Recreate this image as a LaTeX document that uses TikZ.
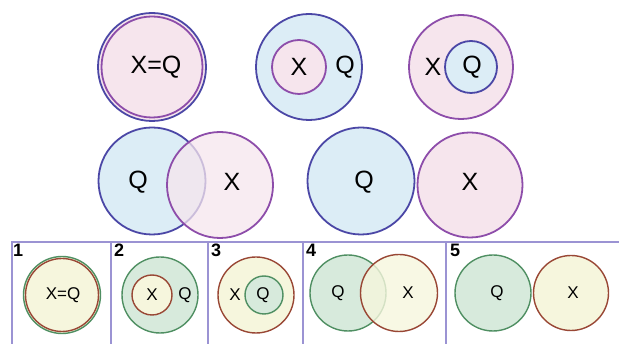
\documentclass[tikz,border=0pt]{standalone}
\usepackage{fontspec}
\setmainfont{Liberation Sans}
\usetikzlibrary{positioning}

\definecolor{pinkfill}{HTML}{F6E5ED}
\definecolor{bluefill}{HTML}{DCEDF6}
\definecolor{blueline}{HTML}{4B47A6}
\definecolor{purpleline}{HTML}{8D4DAA}
\definecolor{yellowfill}{HTML}{F6F6DD}
\definecolor{greenfill}{HTML}{D7EADC}
\definecolor{greenline}{HTML}{4F8F62}
\definecolor{brownline}{HTML}{994735}
\definecolor{frameline}{HTML}{9B93D3}

\begin{document}
\begin{tikzpicture}[x=1pt, y=-1pt,
    qset/.style={circle, draw=blueline, fill=bluefill, line width=1.8pt, inner sep=0pt},
    xset/.style={circle, draw=purpleline, fill=pinkfill, line width=1.8pt, inner sep=0pt},
    qsmall/.style={circle, draw=greenline, fill=greenfill, line width=1.4pt, inner sep=0pt},
    xsmall/.style={circle, draw=brownline, fill=yellowfill, line width=1.4pt, inner sep=0pt},
    lab/.style={font=\fontsize{25}{25}\selectfont, inner sep=0pt},
    slab/.style={font=\fontsize{17}{17}\selectfont, inner sep=0pt},
    num/.style={font=\fontsize{18}{18}\selectfont\bfseries, inner sep=0pt, anchor=north west},
]
\useasboundingbox (0,0) rectangle (619,344);

% top row
\node[qset, fill=pinkfill, minimum size=108pt] (eqout) at (152,67) {};
\node[xset, minimum size=101pt] (eqin) at (152,67) {};
\node[lab] (eqlab) at (156,67) {X=Q};

\node[qset, minimum size=106pt] (qbig) at (309,67) {};
\node[xset, minimum size=54pt] (xin) at (299,67) {};
\node[lab] (xinlab) at (299,67) {X};
\node[lab] (qbiglab) at (345,67) {Q};

\node[xset, minimum size=104pt] (xbig) at (461,67) {};
\node[qset, minimum size=52pt] (qin) at (471,67) {};
\node[lab] (xbiglab) at (433,67) {X};
\node[lab] (qinlab) at (472,67) {Q};

% middle row
\node[qset, minimum size=107pt] (qcut) at (152,181) {};
\node[xset, fill opacity=0.75, minimum size=106pt] (xcut) at (220,185) {};
\node[lab] (qcutlab) at (138,182) {Q};
\node[lab] (xcutlab) at (232,182) {X};

\node[qset, minimum size=107pt] (qapart) at (361,181) {};
\node[xset, minimum size=105pt] (xapart) at (470,185) {};
\node[lab] (qapartlab) at (364,182) {Q};
\node[lab] (xapartlab) at (470,182) {X};

% bottom strip
\draw[frameline, line width=1.2pt] (12,344) -- (12,242) -- (619,242);
\foreach \d in {111,208,303,446}
  \draw[frameline, line width=1.2pt] (\d,242) -- (\d,344);

\node[num] (n1) at (13,244) {1};
\node[num] (n2) at (114,244) {2};
\node[num] (n3) at (211,244) {3};
\node[num] (n4) at (306,244) {4};
\node[num] (n5) at (450,244) {5};

\node[qsmall, fill=yellowfill, minimum size=77pt] (p1out) at (62,295) {};
\node[xsmall, minimum size=73pt] (p1in) at (62,295) {};
\node[slab] (p1lab) at (63,295) {X=Q};

\node[qsmall, minimum size=76pt] (p2out) at (160,295) {};
\node[xsmall, minimum size=40pt] (p2in) at (152,295) {};
\node[slab] (p2x) at (152,295) {X};
\node[slab] (p2q) at (185,295) {Q};

\node[xsmall, minimum size=76pt] (p3out) at (256,295) {};
\node[qsmall, minimum size=38pt] (p3in) at (264,295) {};
\node[slab] (p3x) at (235,295) {X};
\node[slab] (p3q) at (263,295) {Q};

\node[qsmall, minimum size=76pt] (p4q) at (348,293) {};
\node[xsmall, fill opacity=0.8, minimum size=77pt] (p4x) at (399,293) {};
\node[slab] (p4ql) at (338,293) {Q};
\node[slab] (p4xl) at (408,293) {X};

\node[qsmall, minimum size=76pt] (p5q) at (493,293) {};
\node[xsmall, minimum size=75pt] (p5x) at (571,293) {};
\node[slab] (p5ql) at (497,293) {Q};
\node[slab] (p5xl) at (573,293) {X};
\end{tikzpicture}
\end{document}
